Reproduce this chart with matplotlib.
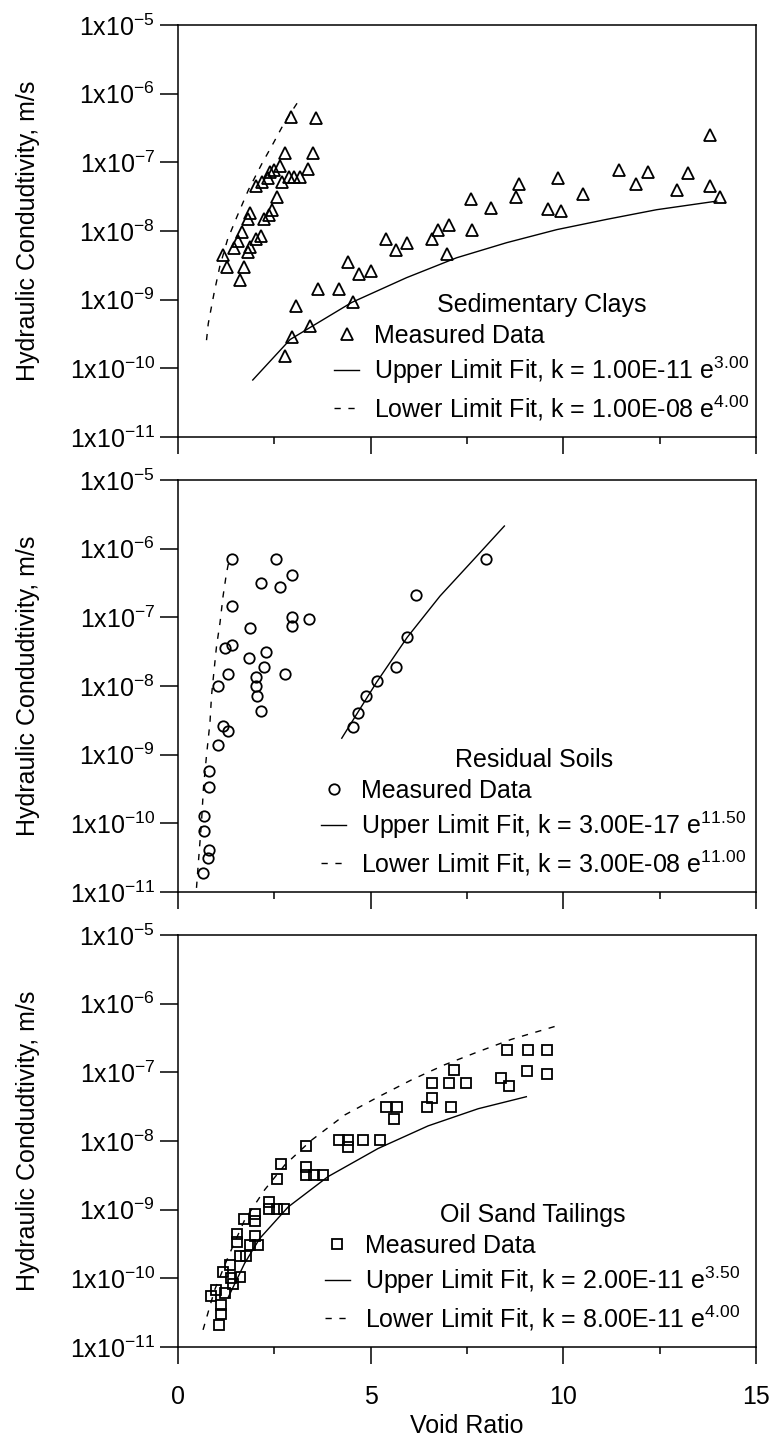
import numpy as np
import matplotlib
matplotlib.use("Agg")
import matplotlib.pyplot as plt
from matplotlib.ticker import FixedLocator, FuncFormatter, MultipleLocator, NullLocator

plt.rcParams["font.family"] = ["Liberation Sans", "DejaVu Sans"]
plt.rcParams["mathtext.fontset"] = "custom"
plt.rcParams["mathtext.rm"] = "Liberation Sans"

FS = 18
LEG_FS = 18

# ---------------------------------------------------------------------------
# Data: void ratio (x) and log10 of hydraulic conductivity
# ---------------------------------------------------------------------------

# Sedimentary clays
sed_x = [2.92, 3.59, 2.77, 3.50, 3.37, 2.64, 2.48, 2.40, 2.33, 2.18, 2.03, 2.70,
         2.87, 3.02, 3.17, 2.57, 2.45, 2.36, 2.23, 1.88, 1.81, 1.66, 2.16, 2.03,
         1.88, 1.56, 1.46, 1.18, 1.28, 1.71, 1.81, 1.60,
         13.81, 11.45, 12.20, 13.23, 11.89, 12.96, 13.81, 14.06, 9.85, 8.86,
         8.77, 10.51, 7.61, 8.11, 9.61, 9.95, 7.02, 6.75, 7.62, 6.58, 6.97,
         5.41, 5.66, 5.95, 4.42, 4.69, 5.01, 3.64, 4.17, 4.53, 3.05, 3.42,
         2.95, 2.77]
sed_logk = [-6.34, -6.36, -6.87, -6.87, -7.09, -7.06, -7.11, -7.14, -7.23, -7.28,
            -7.34, -7.28, -7.21, -7.21, -7.22, -7.50, -7.69, -7.77, -7.82, -7.74,
            -7.82, -8.01, -8.08, -8.12, -8.23, -8.14, -8.25, -8.35, -8.52, -8.52,
            -8.30, -8.71,
            -6.60, -7.11, -7.14, -7.16, -7.31, -7.41, -7.34, -7.50, -7.23, -7.31,
            -7.51, -7.46, -7.54, -7.67, -7.68, -7.71, -7.91, -7.98, -7.99, -8.12,
            -8.33, -8.12, -8.27, -8.17, -8.45, -8.62, -8.58, -8.85, -8.85, -9.03,
            -9.09, -9.38, -9.55, -9.82]
sed_up_x = [1.94, 2.91, 4.51, 5.93, 7.23, 8.53, 9.83, 11.13, 12.42, 13.98]
sed_up_logk = [-10.17, -9.58, -9.04, -8.68, -8.39, -8.17, -7.98, -7.83, -7.69, -7.565]
sed_lo_x = [0.74, 0.785, 0.934, 1.083, 1.282, 1.531, 1.829, 2.177, 2.475, 2.773, 3.101]
sed_lo_logk = [-9.59, -9.35, -8.91, -8.52, -8.13, -7.79, -7.40, -7.02, -6.72, -6.41, -6.13]

# Residual soils
res_x = [1.39, 2.55, 2.97, 2.15, 2.64, 1.39, 2.97, 2.97, 3.40, 1.86, 1.22, 1.39,
         2.28, 1.84, 2.23, 1.30, 2.77, 2.02, 2.02, 2.06, 2.15, 1.04, 1.17, 1.30,
         1.04, 0.81, 0.81, 0.68, 0.68, 0.81, 0.79, 0.64,
         8.00, 6.18, 5.95, 5.66, 5.16, 4.89, 4.66, 4.53]
res_logk = [-6.15, -6.15, -6.38, -6.50, -6.56, -6.83, -7.00, -7.13, -7.03, -7.15,
            -7.45, -7.40, -7.50, -7.59, -7.72, -7.82, -7.82, -7.87, -8.00, -8.14,
            -8.37, -8.00, -8.58, -8.65, -8.86, -9.24, -9.47, -9.89, -10.11, -10.39,
            -10.51, -10.72,
            -6.15, -6.68, -7.29, -7.72, -7.92, -8.14, -8.40, -8.59]
res_up_x = [4.25, 4.66, 5.16, 5.95, 6.80, 7.67, 8.47]
res_up_logk = [-8.76, -8.39, -7.94, -7.29, -6.69, -6.16, -5.67]
res_lo_x = [0.48, 0.53, 0.61, 0.66, 0.74, 0.83, 0.87, 0.94, 1.00, 1.09, 1.17, 1.26, 1.33]
res_lo_logk = [-10.94, -10.56, -9.98, -9.49, -9.01, -8.53, -8.14, -7.75, -7.42,
               -7.08, -6.69, -6.35, -6.16]

# Oil sand tailings
ost_x = [8.54, 9.09, 9.58, 9.06, 9.58, 7.15, 6.60, 7.02, 7.47, 8.39, 8.59, 6.60,
         6.45, 7.08, 5.39, 5.68, 5.61, 3.32, 4.17, 4.41, 4.41, 4.81, 5.24,
         0.86, 0.98, 1.12, 1.12, 1.07, 1.22, 1.17, 1.35, 1.37, 1.42, 1.62, 1.62,
         1.77, 1.52, 1.52, 1.87, 2.07, 1.99, 1.72, 1.99, 1.99, 2.35, 2.35, 2.57,
         2.75, 2.57, 2.67, 3.31, 3.31, 3.54, 3.76]
ost_logk = [-6.68, -6.68, -6.68, -6.98, -7.03, -6.97, -7.16, -7.16, -7.16, -7.08,
            -7.20, -7.38, -7.51, -7.51, -7.51, -7.51, -7.68, -8.08, -7.98, -7.98,
            -8.09, -7.98, -7.98,
            -10.26, -10.17, -10.39, -10.52, -10.68, -10.22, -9.91, -9.81, -10.00,
            -10.08, -9.98, -9.68, -9.68, -9.35, -9.47, -9.51, -9.52, -9.39, -9.13,
            -9.07, -9.17, -8.89, -8.99, -8.99, -8.99, -8.56, -8.33, -8.38, -8.50,
            -8.50, -8.50]
ost_up_x = [1.30, 1.73, 2.12, 2.86, 3.89, 5.19, 6.49, 7.79, 9.04]
ost_up_logk = [-10.28, -9.78, -9.42, -8.96, -8.52, -8.11, -7.78, -7.53, -7.355]
ost_lo_x = [0.65, 0.95, 1.30, 1.73, 2.25, 2.77, 3.46, 4.33, 5.19, 6.06, 6.92,
            7.79, 8.65, 9.91]
ost_lo_logk = [-10.75, -10.17, -9.69, -9.15, -8.71, -8.35, -7.99, -7.62, -7.36,
               -7.11, -6.89, -6.70, -6.52, -6.31]

panels = [
    dict(title="Sedimentary Clays", marker="^", ms=8.5,
         x=sed_x, logk=sed_logk,
         up_x=sed_up_x, up_logk=sed_up_logk, lo_x=sed_lo_x, lo_logk=sed_lo_logk,
         up_label=r"Upper Limit Fit, k = 1.00E-11 e$^{\mathregular{3.00}}$",
         lo_label=r"Lower Limit Fit, k = 1.00E-08 e$^{\mathregular{4.00}}$",
         leg_x=0.270),
    dict(title="Residual Soils", marker="o", ms=7.5,
         x=res_x, logk=res_logk,
         up_x=res_up_x, up_logk=res_up_logk, lo_x=res_lo_x, lo_logk=res_lo_logk,
         up_label=r"Upper Limit Fit, k = 3.00E-17 e$^{\mathregular{11.50}}$",
         lo_label=r"Lower Limit Fit, k = 3.00E-08 e$^{\mathregular{11.00}}$",
         leg_x=0.248),
    dict(title="Oil Sand Tailings", marker="s", ms=7.5,
         x=ost_x, logk=ost_logk,
         up_x=ost_up_x, up_logk=ost_up_logk, lo_x=ost_lo_x, lo_logk=ost_lo_logk,
         up_label=r"Upper Limit Fit, k = 2.00E-11 e$^{\mathregular{3.50}}$",
         lo_label=r"Lower Limit Fit, k = 8.00E-11 e$^{\mathregular{4.00}}$",
         leg_x=0.254),
]

W, H = 772, 1439
fig = plt.figure(figsize=(W / 100, H / 100), dpi=100)
left, right = 178 / W, 756 / W
tops = [25, 480, 935]
ph = 412

DASH = (0, (4.5, 5.5))


def ytick_fmt(v, pos):
    e = int(round(np.log10(v)))
    return r"1x10$^{\mathregular{%d}}$" % e


for i, p in enumerate(panels):
    ax = fig.add_axes([left, 1 - (tops[i] + ph) / H, right - left, ph / H])
    ax.set_yscale("log")
    ax.set_xlim(0, 15)
    ax.set_ylim(1e-11, 1e-5)

    h_meas, = ax.plot(p["x"], 10.0 ** np.array(p["logk"]), linestyle="none",
                      marker=p["marker"], ms=p["ms"], mfc="none", mec="black",
                      mew=1.3)
    h_up, = ax.plot(p["up_x"], 10.0 ** np.array(p["up_logk"]), color="black", lw=1.0)
    h_lo, = ax.plot(p["lo_x"], 10.0 ** np.array(p["lo_logk"]), color="black", lw=1.0,
                    linestyle=DASH)

    ax.yaxis.set_major_locator(FixedLocator([10.0 ** e for e in range(-11, -4)]))
    ax.yaxis.set_major_formatter(FuncFormatter(ytick_fmt))
    ax.yaxis.set_minor_locator(NullLocator())
    ax.xaxis.set_major_locator(MultipleLocator(5))
    ax.xaxis.set_minor_locator(MultipleLocator(2.5))
    ax.tick_params(axis="y", which="major", direction="out", length=13, width=1.1,
                   pad=3.5, labelsize=FS)
    ax.tick_params(axis="x", which="major", direction="out", length=12, width=1.1,
                   pad=15, labelsize=FS)
    ax.tick_params(axis="x", which="minor", direction="out", length=5, width=1.1)
    for s in ax.spines.values():
        s.set_linewidth(1.1)

    if i < 2:
        ax.tick_params(axis="x", labelbottom=False)
    else:
        ax.set_xlabel("Void Ratio", fontsize=FS, labelpad=4)

    ax.set_ylabel("Hydraulic Condudtivity, m/s", fontsize=FS)
    ax.yaxis.set_label_coords(-0.238, 0.5)

    ax.legend([h_meas, h_up, h_lo],
              ["Measured Data", p["up_label"], p["lo_label"]],
              title=p["title"], loc="lower left",
              bbox_to_anchor=(p["leg_x"], 0.035), frameon=False,
              fontsize=LEG_FS, title_fontsize=LEG_FS, borderpad=0,
              borderaxespad=0, handlelength=1.0, handletextpad=0.6,
              labelspacing=0.28, numpoints=1)

fig.savefig("out.png", dpi=100)
